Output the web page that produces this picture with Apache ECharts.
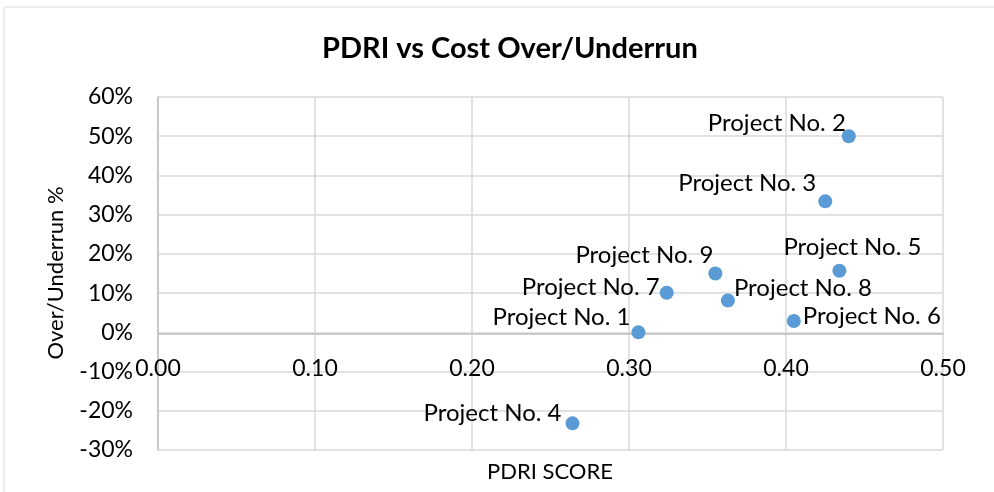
<!DOCTYPE html>
<html>
<head>
<meta charset="utf-8">
<script src="https://cdn.jsdelivr.net/npm/echarts@6/dist/echarts.min.js"></script>
<style>
html,body{margin:0;padding:0;background:#fff;}
#chart{width:994px;height:492px;}
</style>
</head>
<body>
<div id="chart"></div>
<script>
var projects=['Project No. 1','Project No. 2','Project No. 3','Project No. 4','Project No. 5','Project No. 6','Project No. 7','Project No. 8','Project No. 9'];
var pdriScore=[0.306,0.440,0.425,0.264,0.434,0.405,0.324,0.363,0.355];
var overUnder=[0,50,33.4,-23.2,15.7,2.9,10.1,8.1,15];
var xTicks=[0,0.1,0.2,0.3,0.4,0.5];
var yTicks=[-30,-20,-10,0,10,20,30,40,50,60];

// label placement per point (style only)
var labelPlace=[
    {position:'left',offset:[-1,-15]},
    {position:'left',offset:[4,-13]},
    {position:'left',offset:[-2,-18]},
    {position:'left',offset:[-4,-10]},
    {position:'inside',offset:[13,-23]},
    {position:'right',offset:[2,-5]},
    {position:'left',offset:[0,-5]},
    {position:'right',offset:[-1,-12]},
    {position:'left',offset:[5,-18]}
];

var fontName='Lato';
var chart=echarts.init(document.getElementById('chart'));

var points=[];
for(var i=0;i<projects.length;i++){
    points.push({
        name:projects[i],
        value:[pdriScore[i],overUnder[i]],
        label:{position:labelPlace[i].position,offset:labelPlace[i].offset,distance:0}
    });
}

var option={
    animation:false,
    textStyle:{fontFamily:fontName},
    graphic:[
        {type:'rect',shape:{x:4,y:7,width:1000,height:500},style:{fill:'none',stroke:'#d9d9d9',lineWidth:1}},
        {type:'text',x:550,y:472,style:{text:'PDRI SCORE',font:'22px '+fontName,fill:'#000',textAlign:'center',textVerticalAlign:'middle'}},
        {type:'text',x:56,y:273,rotation:Math.PI/2,style:{text:'Over/Underrun %',font:'22px '+fontName,fill:'#000',textAlign:'center',textVerticalAlign:'middle'}}
    ],
    title:{
        text:'PDRI vs Cost Over/Underrun',
        left:317,
        top:29,
        textStyle:{fontFamily:fontName,fontSize:29,fontWeight:'bold',color:'#000'}
    },
    grid:{left:158,right:51,top:97,bottom:42},
    xAxis:{
        type:'value',
        min:0,max:0.5,interval:0.1,
        offset:0,
        axisLine:{onZero:false,lineStyle:{color:'#bfbfbf',width:1.5}},
        axisTick:{show:false},
        axisLabel:{color:'#000',fontSize:23,margin:23,fontFamily:fontName,formatter:function(v){return v.toFixed(2);}},
        splitLine:{lineStyle:{color:'#d9d9d9',width:1.5}}
    },
    yAxis:{
        type:'value',
        min:-30,max:60,interval:10,
        axisLine:{show:true,onZero:false,lineStyle:{color:'#bfbfbf',width:1.5}},
        axisTick:{show:false},
        axisLabel:{color:'#000',fontSize:23,margin:25,fontFamily:fontName,formatter:'{value}%'},
        splitLine:{lineStyle:{color:'#d9d9d9',width:1.5}}
    },
    series:[{
        type:'scatter',
        symbolSize:14,
        itemStyle:{color:'#5b9bd5',opacity:1},
        label:{show:true,formatter:'{b}',color:'#000',fontSize:24,fontFamily:fontName},
        data:points
    }]
};
chart.setOption(option);

// move the x axis (line + labels) up to the 0% position of the y axis
var zeroY=chart.convertToPixel({yAxisIndex:0},0);
var bottomY=chart.convertToPixel({yAxisIndex:0},yTicks[0]);
chart.setOption({xAxis:{offset:-(bottomY-zeroY)}});
</script>
</body>
</html>
